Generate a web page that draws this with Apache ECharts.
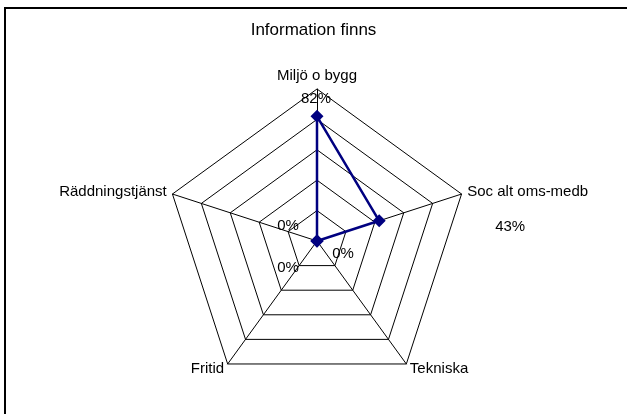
<!DOCTYPE html>
<html>
<head>
<meta charset="utf-8">
<script src="https://cdn.jsdelivr.net/npm/echarts@6/dist/echarts.min.js"></script>
<style>
  html, body { margin: 0; padding: 0; background: #fff; }
  #chart { width: 627px; height: 414px; }
  #frame {
    position: absolute; left: 4px; top: 7px; right: -10px; bottom: -10px;
    border-left: 2px solid #000; border-top: 2px solid #000;
    pointer-events: none;
  }
</style>
</head>
<body>
<div id="chart"></div>
<div id="frame"></div>
<script>
// Excel order, clockwise from the top
const categories = ["Miljö o bygg", "Soc alt oms-medb", "Tekniska", "Fritid", "Räddningstjänst"];
const values = [82, 43, 0, 0, 0];
const maxValue = 100;

// where each data label sits relative to its point (Excel placed them by hand)
const labelOffsets = [[-1, -18], [131, 6], [26, 13], [-29, 27], [-29, -15]];

const font = "'Liberation Sans', Arial, sans-serif";

// echarts lays indicators out counter-clockwise, so flip the tail
const order = [0].concat(categories.slice(1).map((c, i) => i + 1).reverse());

const chart = echarts.init(document.getElementById("chart"));

// one invisible radar per category, only so each % label can get its own offset
const labelSeries = categories.map((name, k) => ({
  type: "radar",
  z: 5,
  symbol: "circle",
  symbolSize: 0,
  lineStyle: { width: 0, opacity: 0 },
  silent: true,
  label: {
    show: true,
    position: "inside",
    offset: labelOffsets[k],
    color: "#000",
    fontFamily: font,
    fontSize: 15,
    formatter: (p) => {
      const v = Array.isArray(p.value) ? p.value[order.indexOf(k)] : p.value;
      return typeof v === "number" && !isNaN(v) ? v + "%" : "";
    },
  },
  data: [{ value: order.map((i) => (i === k ? values[i] : "-")) }],
}));

chart.setOption({
  animation: false,
  backgroundColor: "#fff",
  title: {
    text: "Information finns",
    left: "center",
    top: 22,
    padding: 0,
    textStyle: { fontFamily: font, fontSize: 17, fontWeight: "normal", color: "#000" },
  },
  radar: {
    center: [317, 241],
    radius: 152,
    startAngle: 90,
    splitNumber: 5,
    shape: "polygon",
    indicator: order.map((i) => ({ name: categories[i], max: maxValue, min: 0 })),
    nameGap: 6,
    axisName: { color: "#000", fontFamily: font, fontSize: 15 },
    axisLine: { lineStyle: { color: "#000", width: 1 } },
    splitLine: { lineStyle: { color: "#000", width: 1 } },
    splitArea: { show: false },
    axisTick: { show: false },
    axisLabel: { show: false },
  },
  series: [
    {
      type: "radar",
      z: 3,
      symbol: "diamond",
      symbolSize: 13,
      itemStyle: { color: "#000080" },
      lineStyle: { color: "#000080", width: 2.5 },
      data: [{ value: order.map((i) => values[i]), name: "Information finns" }],
    },
  ].concat(labelSeries),
});
</script>
</body>
</html>
